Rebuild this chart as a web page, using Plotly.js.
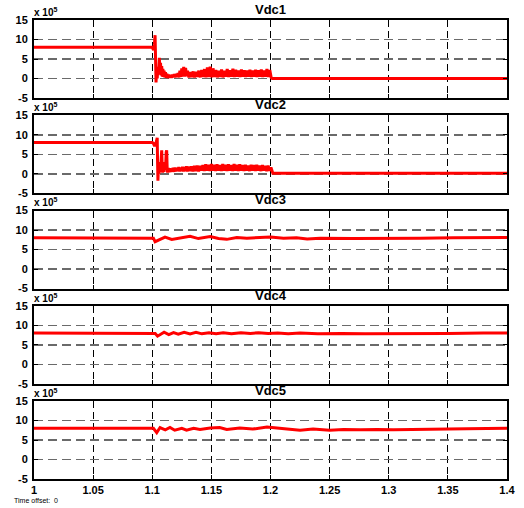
<!DOCTYPE html>
<html>
<head>
<meta charset="utf-8">
<script src="https://cdn.plot.ly/plotly-3.0.1.min.js"></script>
<style>html,body{margin:0;padding:0;background:#fff;}#plot{width:524px;height:508px;}</style>
</head>
<body>
<div id="plot"></div>
<script>
// ---- data (values in units of 1e5) ----
const seriesNames = ["Vdc1", "Vdc2", "Vdc3", "Vdc4", "Vdc5"];
const xTickVals = [1, 1.05, 1.1, 1.15, 1.2, 1.25, 1.3, 1.35, 1.4];
const xTickText = ["1", "1.05", "1.1", "1.15", "1.2", "1.25", "1.3", "1.35", "1.4"];
const yTickVals = [-5, 0, 5, 10, 15];
const yTickText = ["-5", "0", "5", "10", "15"];

const vdc1T = [1.0, 1.1, 1.1006, 1.1012, 1.1018, 1.1024, 1.1028, 1.1032, 1.1037, 1.1042, 1.1048, 1.1054, 1.1060, 1.1065, 1.1070, 1.1075, 1.1080, 1.1085, 1.1090, 1.1095, 1.1100, 1.1106, 1.1112, 1.1118, 1.1124, 1.1130, 1.1138, 1.1146, 1.1154, 1.1162, 1.1170, 1.1178, 1.1186, 1.1194, 1.1202, 1.1210, 1.1218, 1.1226, 1.1234, 1.1242, 1.1250, 1.1258, 1.1266, 1.1274, 1.1282, 1.1290, 1.1298,
  1.1310, 1.1322, 1.1334, 1.1346, 1.1358, 1.1370, 1.1382, 1.1394, 1.1406, 1.1418, 1.1430, 1.1442, 1.1454, 1.1466, 1.1478, 1.1490, 1.1502, 1.1514, 1.1526, 1.1538, 1.1550, 1.1562, 1.1574, 1.1586, 1.1598, 1.1610, 1.1622, 1.1634, 1.1646, 1.1658, 1.1670, 1.1682, 1.1694, 1.1706, 1.1718, 1.1730, 1.1742, 1.1754, 1.1766, 1.1778, 1.1790, 1.1802, 1.1814, 1.1826, 1.1838, 1.1850, 1.1862, 1.1874, 1.1886, 1.1898, 1.1910, 1.1922, 1.1934, 1.1946, 1.1958, 1.1970, 1.1982, 1.1994, 1.2006, 1.2015, 1.4];
const vdc1V = [8.0, 8.0, 7.6, 7.3, 8.6, 11.1, 5.0, -1.0, 2.0, 0.0, 3.0, 1.0, 5.3, 1.5, 4.0, 0.8, 3.2, 0.5, 2.5, 0.4, 2.0, 0.3, 1.6, 0.2, 1.2, 0.1, 1.0, 0.2, 0.9, 0.2, 1.0, 0.3, 1.1, 0.3, 1.2, 0.4, 1.4, 0.3, 2.0, 0.4, 2.6, 0.5, 3.0, 0.5, 2.7, 0.6, 2.0,
  0.3, 1.6, 0.4, 1.8, 0.3, 1.7, 0.4, 2.0, 0.3, 2.2, 0.4, 2.4, 0.3, 2.8, 0.4, 3.0, 0.3, 2.6, 0.4, 2.2, 0.3, 2.0, 0.4, 2.3, 0.3, 2.0, 0.5, 2.4, 0.4, 2.1, 0.5, 2.5, 0.4, 2.2, 0.5, 2.0, 0.4, 2.3, 0.5, 2.1, 0.4, 2.0, 0.5, 2.2, 0.4, 2.0, 0.5, 2.2, 0.4, 2.1, 0.5, 2.3, 0.4, 2.0, 0.5, 2.4, 0.4, 2.2, 0.2, 0.0, 0.0];

const vdc2T = [1.0, 1.1, 1.1010, 1.1020, 1.1030, 1.1036, 1.1042, 1.1045, 1.1048, 1.1053, 1.1058, 1.1064, 1.1070, 1.1076, 1.1080, 1.1084, 1.1088, 1.1094, 1.1100, 1.1106, 1.1112, 1.1118, 1.1122, 1.1126, 1.1130, 1.1136, 1.1142, 1.1148, 1.1154, 1.1160, 1.1168, 1.1176, 1.1184, 1.1192, 1.1200, 1.1208, 1.1216, 1.1224, 1.1232, 1.1240, 1.1248, 1.1256, 1.1264, 1.1272, 1.1280, 1.1288, 1.1296,
  1.1308, 1.1320, 1.1332, 1.1344, 1.1356, 1.1368, 1.1380, 1.1392, 1.1404, 1.1416, 1.1428, 1.1440, 1.1452, 1.1464, 1.1476, 1.1488, 1.1500, 1.1512, 1.1524, 1.1536, 1.1548, 1.1560, 1.1572, 1.1584, 1.1596, 1.1608, 1.1620, 1.1632, 1.1644, 1.1656, 1.1668, 1.1680, 1.1692, 1.1704, 1.1716, 1.1728, 1.1740, 1.1752, 1.1764, 1.1776, 1.1788, 1.1800, 1.1812, 1.1824, 1.1836, 1.1848, 1.1860, 1.1872, 1.1884, 1.1896, 1.1908, 1.1920, 1.1932, 1.1944, 1.1956, 1.1968, 1.1980, 1.1992, 1.2004, 1.2020, 1.4];
const vdc2V = [8.0, 8.0, 7.8, 7.1, 7.6, 8.5, 9.2, 3.0, -1.8, 2.5, 0.0, 3.0, 0.5, 4.0, 6.0, 2.0, 0.3, 2.8, 0.5, 3.0, 1.0, 5.5, 6.0, 1.5, 0.3, 1.5, 0.4, 1.4, 0.5, 1.3, 0.6, 1.5, 0.5, 1.6, 0.6, 1.5, 0.7, 1.7, 0.6, 1.6, 0.7, 1.8, 0.6, 1.7, 0.7, 1.9, 0.6,
  1.8, 0.7, 1.9, 0.6, 2.0, 0.7, 2.1, 0.6, 2.0, 0.8, 2.2, 0.7, 2.4, 0.8, 2.3, 0.7, 2.5, 0.8, 2.3, 0.7, 2.4, 0.8, 2.2, 0.7, 2.5, 0.8, 2.3, 0.7, 2.4, 0.8, 2.2, 0.7, 2.5, 0.8, 2.3, 0.7, 2.4, 0.8, 2.2, 0.7, 2.3, 0.8, 2.1, 0.7, 2.3, 0.8, 2.2, 0.7, 2.3, 0.8, 2.1, 0.7, 2.2, 0.8, 2.0, 0.7, 2.1, 0.8, 1.6, 0.1, 0.1];

const vdc3T = [1.0, 1.1, 1.1010, 1.1024, 1.1045, 1.1066, 1.1108, 1.1165, 1.1235, 1.1320, 1.1390, 1.1490, 1.1560, 1.1630, 1.1715, 1.1800, 1.1910, 1.2000, 1.2110, 1.2220, 1.2310, 1.2420, 1.2700, 1.2980, 1.3266, 1.3545, 1.3830, 1.4];
const vdc3V = [8.0, 8.0, 7.9, 7.0, 7.3, 7.5, 8.2, 7.6, 7.9, 8.4, 7.8, 8.3, 7.8, 7.6, 8.1, 7.9, 8.1, 8.2, 7.9, 8.0, 7.7, 7.9, 7.8, 7.8, 7.9, 8.0, 8.1, 8.1];

const vdc4T = [1.0, 1.1, 1.1025, 1.1045, 1.1070, 1.1100, 1.1140, 1.1180, 1.1220, 1.1270, 1.1320, 1.1370, 1.1420, 1.1480, 1.1540, 1.1600, 1.1670, 1.1750, 1.1830, 1.1900, 1.1980, 1.2060, 1.2150, 1.2250, 1.2400, 1.2600, 1.2800, 1.3000, 1.3200, 1.3500, 1.3800, 1.4];
const vdc4V = [8.0, 8.0, 7.9, 7.2, 7.7, 8.2, 7.6, 8.1, 7.7, 8.2, 7.8, 8.2, 7.8, 8.1, 7.8, 8.1, 7.8, 8.1, 7.9, 8.1, 7.9, 8.0, 7.8, 8.0, 7.8, 7.9, 7.8, 7.8, 7.8, 7.9, 8.0, 8.0];

const vdc5T = [1.0, 1.1010, 1.1038, 1.1066, 1.1110, 1.1150, 1.1190, 1.1250, 1.1290, 1.1350, 1.1404, 1.1490, 1.1570, 1.1630, 1.1740, 1.1850, 1.1970, 1.2050, 1.2140, 1.2250, 1.2360, 1.2500, 1.2616, 1.2760, 1.2900, 1.3040, 1.3210, 1.3435, 1.3660, 1.4];
const vdc5V = [8.0, 8.0, 6.9, 8.2, 7.6, 8.2, 7.5, 8.0, 7.5, 8.0, 7.7, 8.1, 8.2, 7.7, 8.1, 7.8, 8.3, 8.0, 7.8, 7.5, 7.8, 7.5, 7.7, 7.6, 7.7, 7.6, 7.7, 7.9, 7.9, 8.0];

const seriesT = [vdc1T, vdc2T, vdc3T, vdc4T, vdc5T];
const seriesV = [vdc1V, vdc2V, vdc3V, vdc4V, vdc5V];

// ---- layout geometry (pixels) ----
const W = 524, H = 508;
const mL = 34, mR = 17, mT = 20, mB = 29;
const plotH = H - mT - mB;
const rowTops = [20, 115.25, 210.5, 305.75, 401];
const rowH = 78;

const fontFam = "Arial, 'Liberation Sans', sans-serif";
const traces = [];
const layout = {
  width: W, height: H,
  margin: {l: mL, r: mR, t: mT, b: mB, pad: 0},
  paper_bgcolor: "#ffffff",
  plot_bgcolor: "#ffffff",
  showlegend: false,
  annotations: []
};

for (let i = 0; i < 5; i++) {
  const n = i === 0 ? "" : String(i + 1);
  traces.push({
    x: seriesT[i], y: seriesV[i],
    type: "scatter", mode: "lines",
    line: {color: "#ff0000", width: 3},
    xaxis: "x" + n, yaxis: "y" + n,
    hoverinfo: "skip"
  });
  const top = rowTops[i], bot = top + rowH;
  const d0 = (H - mB - bot) / plotH, d1 = (H - mB - top) / plotH;
  layout["xaxis" + n] = {
    domain: [0, 1], anchor: "y" + n,
    range: [1, 1.4],
    tickmode: "array", tickvals: xTickVals, ticktext: xTickText,
    showticklabels: i === 4,
    ticks: "inside", ticklen: 4, tickwidth: 1, tickcolor: "#000",
    showgrid: true, gridcolor: "#000000", gridwidth: 1, griddash: "7px,4px",
    zeroline: false,
    showline: true, linecolor: "#000", linewidth: 2, mirror: "ticks",
    tickfont: {family: fontFam, size: 11, color: "#000", weight: "bold"},
    fixedrange: true
  };
  layout["yaxis" + n] = {
    domain: [Math.max(0, d0), Math.min(1, d1)], anchor: "x" + n,
    range: [-5, 15],
    tickmode: "array", tickvals: yTickVals, ticktext: yTickText,
    ticks: "inside", ticklen: 4, tickwidth: 1, tickcolor: "#000",
    showgrid: true, gridcolor: "#6a6a6a", gridwidth: 1.5, griddash: "9px,5px",
    zeroline: false,
    showline: true, linecolor: "#000", linewidth: 2, mirror: "ticks",
    tickfont: {family: fontFam, size: 11, color: "#000", weight: "bold"},
    ticklabelstandoff: 2,
    fixedrange: true
  };
  layout.annotations.push({
    text: seriesNames[i],
    xref: "x" + n + " domain", yref: "y" + n + " domain",
    x: 0.5, y: 1, xanchor: "center", yanchor: "bottom", yshift: 1,
    showarrow: false,
    font: {family: fontFam, size: 13, color: "#000", weight: "bold"}
  });
  layout.annotations.push({
    text: "x 10<sup>5</sup>",
    xref: "x" + n + " domain", yref: "y" + n + " domain",
    x: 0, y: 1, xanchor: "left", yanchor: "bottom", xshift: -2, yshift: 0,
    showarrow: false,
    font: {family: fontFam, size: 10, color: "#000", weight: "bold"}
  });
}
layout.annotations.push({
  text: "Time offset:  0",
  xref: "paper", yref: "paper",
  x: -22 / (W - mL - mR), y: 0, xanchor: "left", yanchor: "top", yshift: -16,
  showarrow: false,
  font: {family: fontFam, size: 7, color: "#000"}
});

Plotly.newPlot("plot", traces, layout, {displayModeBar: false, staticPlot: true});
</script>
</body>
</html>
